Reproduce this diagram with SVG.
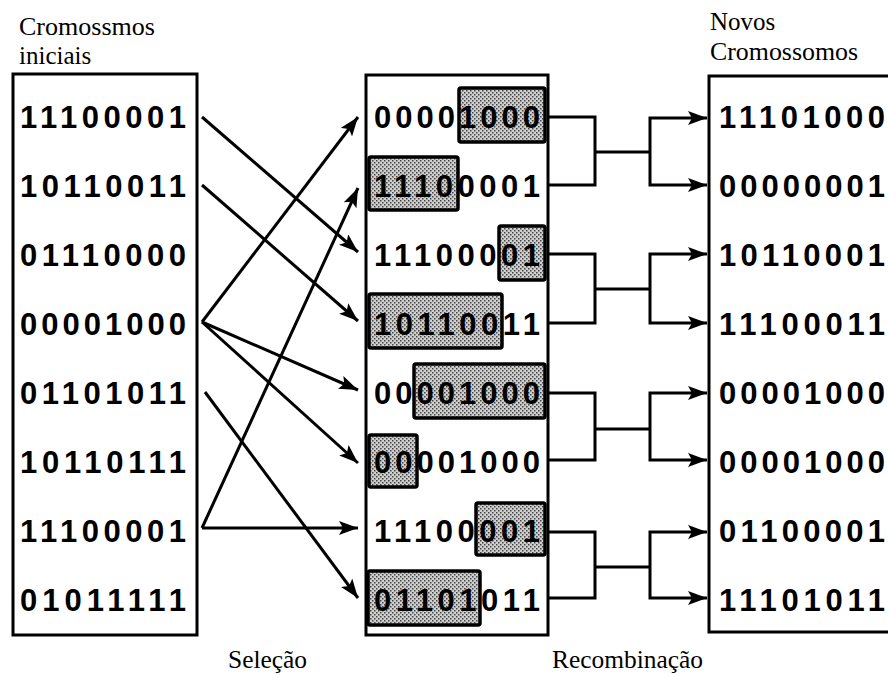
<svg xmlns="http://www.w3.org/2000/svg" width="888" height="675" viewBox="0 0 888 675">
<defs>
<style>
.box{fill:#fff;stroke:#000;stroke-width:3}
.bits{font-family:"Liberation Sans",Arial,sans-serif;font-weight:bold;font-size:31px;fill:#000}
.lbl{font-family:"Liberation Serif","Times New Roman",serif;font-size:25px;fill:#000}
.sh{fill:url(#dots);stroke:#000;stroke-width:3.5}
.con{fill:none;stroke:#000;stroke-width:3}
.arr{fill:none;stroke:#000;stroke-width:3;marker-end:url(#ah)}
</style>
<pattern id="dots" width="4" height="4" patternUnits="userSpaceOnUse">
<rect width="4" height="4" fill="#cfcfcf"/>
<rect x="0" y="0" width="1.5" height="1.5" fill="#444"/>
<rect x="2" y="2" width="1.5" height="1.5" fill="#444"/>
</pattern>
<marker id="ah" markerUnits="userSpaceOnUse" markerWidth="20" markerHeight="14" refX="19" refY="7" orient="auto">
<path d="M0,0 L19,7 L0,14 L4,7 z" fill="#000"/>
</marker>
</defs>

<g id="labels">
<text class="lbl" x="19" y="35" textLength="136" lengthAdjust="spacingAndGlyphs">Cromossmos</text>
<text class="lbl" x="19" y="64">iniciais</text>
<text class="lbl" x="710" y="30">Novos</text>
<text class="lbl" x="710" y="60" textLength="148" lengthAdjust="spacingAndGlyphs">Cromossomos</text>
<text class="lbl" x="228" y="668" textLength="79" lengthAdjust="spacingAndGlyphs">Seleção</text>
<text class="lbl" x="552" y="668" textLength="151" lengthAdjust="spacingAndGlyphs">Recombinação</text>
</g>

<g id="initial">
<rect class="box" x="13" y="74" width="184" height="561"/>
<text class="bits" x="20" y="128" textLength="166" lengthAdjust="spacing">11100001</text>
<text class="bits" x="20" y="197" textLength="166" lengthAdjust="spacing">10110011</text>
<text class="bits" x="20" y="266" textLength="166" lengthAdjust="spacing">01110000</text>
<text class="bits" x="20" y="335" textLength="166" lengthAdjust="spacing">00001000</text>
<text class="bits" x="20" y="404" textLength="166" lengthAdjust="spacing">01101011</text>
<text class="bits" x="20" y="473" textLength="166" lengthAdjust="spacing">10110111</text>
<text class="bits" x="20" y="542" textLength="166" lengthAdjust="spacing">11100001</text>
<text class="bits" x="20" y="611" textLength="166" lengthAdjust="spacing">01011111</text>
</g>

<g id="selected">
<rect class="box" x="366" y="75" width="182" height="560"/>
<rect class="sh" x="459" y="88" width="86" height="54" rx="2"/>
<rect class="sh" x="369" y="157" width="89" height="53" rx="2"/>
<rect class="sh" x="499" y="226" width="46" height="54" rx="2"/>
<rect class="sh" x="369" y="294" width="133" height="54" rx="2"/>
<rect class="sh" x="414" y="364" width="131" height="54" rx="2"/>
<rect class="sh" x="369" y="435" width="48" height="52" rx="2"/>
<rect class="sh" x="476" y="503" width="69" height="52" rx="2"/>
<rect class="sh" x="368" y="571" width="112" height="54" rx="2"/>
<text class="bits" x="374" y="128" textLength="166" lengthAdjust="spacing">00001000</text>
<text class="bits" x="374" y="197" textLength="166" lengthAdjust="spacing">11100001</text>
<text class="bits" x="374" y="266" textLength="166" lengthAdjust="spacing">11100001</text>
<text class="bits" x="374" y="335" textLength="166" lengthAdjust="spacing">10110011</text>
<text class="bits" x="374" y="404" textLength="166" lengthAdjust="spacing">00001000</text>
<text class="bits" x="374" y="473" textLength="166" lengthAdjust="spacing">00001000</text>
<text class="bits" x="374" y="542" textLength="166" lengthAdjust="spacing">11100001</text>
<text class="bits" x="374" y="611" textLength="166" lengthAdjust="spacing">01101011</text>
</g>

<g id="new">
<rect class="box" x="709" y="76" width="200" height="556"/>
<text class="bits" x="719" y="128" textLength="166" lengthAdjust="spacing">11101000</text>
<text class="bits" x="719" y="197" textLength="166" lengthAdjust="spacing">00000001</text>
<text class="bits" x="719" y="266" textLength="166" lengthAdjust="spacing">10110001</text>
<text class="bits" x="719" y="335" textLength="166" lengthAdjust="spacing">11100011</text>
<text class="bits" x="719" y="404" textLength="166" lengthAdjust="spacing">00001000</text>
<text class="bits" x="719" y="473" textLength="166" lengthAdjust="spacing">00001000</text>
<text class="bits" x="719" y="542" textLength="166" lengthAdjust="spacing">01100001</text>
<text class="bits" x="719" y="611" textLength="166" lengthAdjust="spacing">11101011</text>
</g>

<g id="connectors">
<line class="arr" x1="202" y1="117" x2="358" y2="252"/>
<line class="arr" x1="202" y1="185" x2="358" y2="321"/>
<line class="arr" x1="202" y1="322" x2="358" y2="117"/>
<line class="arr" x1="202" y1="322" x2="358" y2="390"/>
<line class="arr" x1="202" y1="322" x2="358" y2="463"/>
<line class="arr" x1="205" y1="392" x2="358" y2="598"/>
<line class="arr" x1="202" y1="528" x2="358" y2="188"/>
<line class="arr" x1="202" y1="528" x2="358" y2="528"/>
<path class="con" d="M548,117 H595 V185 H548 M595,152 H650"/>
<path class="con" d="M548,254 H595 V323 H548 M595,289 H650"/>
<path class="con" d="M548,393 H595 V460 H548 M595,429 H650"/>
<path class="con" d="M548,532 H595 V598 H548 M595,567 H650"/>
<path class="arr" d="M650,152 V118 H707"/>
<path class="arr" d="M650,152 V185 H707"/>
<path class="arr" d="M650,289 V254 H707"/>
<path class="arr" d="M650,289 V323 H707"/>
<path class="arr" d="M650,429 V393 H707"/>
<path class="arr" d="M650,429 V460 H707"/>
<path class="arr" d="M650,567 V532 H707"/>
<path class="arr" d="M650,567 V598 H707"/>
</g>
</svg>
